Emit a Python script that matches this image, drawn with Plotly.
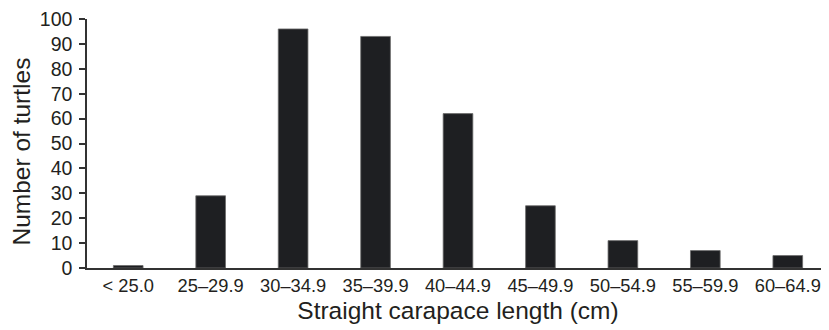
import plotly.graph_objects as go

categories = ["< 25.0", "25–29.9", "30–34.9", "35–39.9", "40–44.9",
              "45–49.9", "50–54.9", "55–59.9", "60–64.9"]
counts = [1, 29, 96, 93, 62, 25, 11, 7, 5]
y_ticks = [0, 10, 20, 30, 40, 50, 60, 70, 80, 90, 100]

FONT = "Liberation Sans, Arial, Helvetica, sans-serif"
TXT = "#231f20"

fig = go.Figure(go.Bar(
    x=categories, y=counts, width=0.36,
    marker=dict(color="#1e1f22", line=dict(color="#6b6b6b", width=0.8)),
))

# page body has an 8px default margin, so the figure is offset by 8px
fig.update_layout(
    width=821, height=322,
    margin=dict(l=79, r=0, t=11, b=62),
    paper_bgcolor="white", plot_bgcolor="white",
    showlegend=False,
    font=dict(family=FONT, color=TXT),
    annotations=[dict(
        text="Number of turtles", textangle=-90,
        xref="paper", yref="paper", x=0, y=0.5,
        xanchor="center", yanchor="middle", xshift=-66, yshift=-8,
        borderpad=0,
        showarrow=False, font=dict(size=24.5, family=FONT, color=TXT),
    )],
)
fig.update_xaxes(
    type="category", range=[-0.5, 8.5],
    showline=True, linecolor="#333333", linewidth=1.5,
    ticks="", showgrid=False, zeroline=False,
    tickfont=dict(size=18.3, family=FONT, color=TXT),
    title=dict(text="Straight carapace length (cm)", font=dict(size=24.5, family=FONT, color=TXT), standoff=7),
    automargin=False,
)
fig.update_yaxes(
    range=[0, 100], tickvals=y_ticks,
    showline=True, linecolor="#333333", linewidth=1.5,
    ticks="outside", ticklen=6, tickcolor="#333333", tickwidth=1.5,
    ticklabelstandoff=3, ticklabeloverflow="allow",
    showgrid=False, zeroline=False,
    tickfont=dict(size=19.5, family=FONT, color=TXT),
    automargin=False,
)

fig.write_html("out.html")
